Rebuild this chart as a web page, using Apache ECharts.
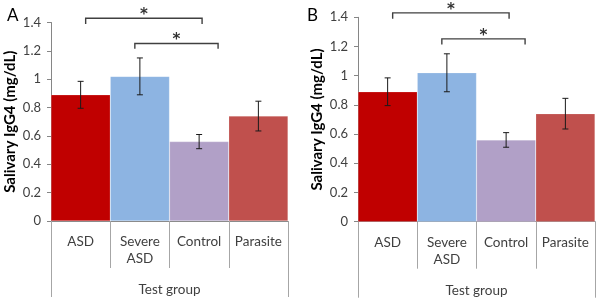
<!DOCTYPE html>
<html>
<head>
<meta charset="utf-8">
<script src="https://cdn.jsdelivr.net/npm/echarts@6/dist/echarts.min.js"></script>
<style>
  html, body { margin: 0; padding: 0; background: #fff; }
  #chart { width: 600px; height: 303px; }
</style>
</head>
<body>
<div id="chart"></div>
<script>
// data (both panels show the same values)
const groups = ['ASD', 'Severe\nASD', 'Control', 'Parasite'];
const means = [0.89, 1.02, 0.56, 0.74];
const errors = [0.095, 0.13, 0.05, 0.105];
const barColors = ['#C00000', '#8DB4E2', '#B1A0C7', '#C0504D'];
const yTicks = { min: 0, max: 1.4, step: 0.2 };
// brackets: [from (category units), to, top value, leg value]
const brackets = [
  [0.085, 2.05, 1.43, 1.39],
  [0.915, 2.32, 1.252, 1.214]
];
const panels = ['A', 'B'];

const font = 'Lato, "Open Sans", sans-serif';
const textColor = '#404040';

let myChart = echarts.init(document.getElementById('chart'));

// panel placement
const grids = [
  { left: 51, top: 22.5, width: 237, height: 198.5 },
  { left: 358, top: 17.3, width: 237, height: 204.4 }
];

let xAxes = [], yAxes = [], series = [], titles = [];

grids.forEach((g, i) => {
  titles.push({
    text: panels[i],
    left: i === 0 ? 2 : 302,
    top: 2,
    textStyle: { fontFamily: font, fontSize: 17, fontWeight: 'normal', color: '#000' }
  });

  // category axis with the group labels
  xAxes.push({
    gridIndex: i,
    type: 'category',
    data: groups,
    axisLine: { lineStyle: { color: '#868686' } },
    axisTick: { show: true, length: 47, lineStyle: { color: '#A6A6A6' } },
    axisLabel: {
      interval: 0,
      margin: 12, fontFamily: font, fontSize: 13.5, color: textColor, lineHeight: 17
    }
  });
  // outer level: "Test group"
  xAxes.push({
    gridIndex: i,
    type: 'category',
    position: 'bottom',
    data: ['Test group'],
    axisLine: { show: false },
    axisTick: { show: true, length: 76, lineStyle: { color: '#A6A6A6' } },
    axisLabel: { interval: 0, margin: 62, fontFamily: font, fontSize: 13.5, color: textColor }
  });

  yAxes.push({
    gridIndex: i,
    type: 'value',
    min: yTicks.min,
    max: yTicks.max,
    interval: yTicks.step,
    name: 'Salivary IgG4 (mg/dL)',
    nameLocation: 'middle',
    nameGap: 33,
    nameTextStyle: { fontFamily: font, fontSize: 15, fontWeight: 'bold', color: '#000' },
    axisLine: { show: true, lineStyle: { color: '#868686' } },
    axisTick: { show: true, length: 4, lineStyle: { color: '#868686' } },
    splitLine: { show: false },
    axisLabel: { margin: 10, fontFamily: font, fontSize: 13, color: textColor }
  });

  series.push({
    type: 'bar',
    xAxisIndex: i * 2,
    yAxisIndex: i,
    barCategoryGap: '0%',
    data: means.map((v, k) => ({ value: v, itemStyle: { color: barColors[k] } })),
    itemStyle: { borderColor: 'rgba(255,255,255,0.35)', borderWidth: 0.5 }
  });

  // error bars
  series.push({
    type: 'custom',
    xAxisIndex: i * 2,
    yAxisIndex: i,
    data: means.map((v, k) => [k, v, errors[k]]),
    renderItem: function (params, api) {
      const x = api.value(0), m = api.value(1), e = api.value(2);
      const hi = api.coord([x, m + e]);
      const lo = api.coord([x, m - e]);
      const cap = 3;
      const style = { stroke: '#1a1a1a', lineWidth: 1 };
      return {
        type: 'group',
        children: [
          { type: 'line', shape: { x1: hi[0], y1: hi[1], x2: lo[0], y2: lo[1] }, style },
          { type: 'line', shape: { x1: hi[0] - cap, y1: hi[1], x2: hi[0] + cap, y2: hi[1] }, style },
          { type: 'line', shape: { x1: lo[0] - cap, y1: lo[1], x2: lo[0] + cap, y2: lo[1] }, style }
        ]
      };
    },
    z: 3
  });

  // significance brackets
  series.push({
    type: 'custom',
    xAxisIndex: i * 2,
    yAxisIndex: i,
    clip: false,
    data: brackets,
    renderItem: function (params, api) {
      const band = api.size([1, 0])[0];
      const toPx = (v, y) => {
        const base = Math.floor(v);
        const p = api.coord([base, y]);
        return [p[0] + (v - base) * band, p[1]];
      };
      const a = toPx(api.value(0), api.value(2));
      const b = toPx(api.value(1), api.value(2));
      const aLeg = toPx(api.value(0), api.value(3));
      const bLeg = toPx(api.value(1), api.value(3));
      const style = { stroke: '#404040', lineWidth: 1.4, fill: null };
      return {
        type: 'group',
        children: [
          { type: 'polyline', shape: { points: [aLeg, a, b, bLeg] }, style },
          {
            type: 'text',
            style: {
              text: '*', x: (a[0] + b[0]) / 2, y: a[1] - 3,
              align: 'center', verticalAlign: 'middle',
              font: 'bold 15px "DejaVu Sans", sans-serif', fill: '#333'
            }
          }
        ]
      };
    },
    z: 4
  });
});

myChart.setOption({
  animation: false,
  title: titles,
  grid: grids,
  xAxis: xAxes,
  yAxis: yAxes,
  series: series
});
</script>
</body>
</html>
